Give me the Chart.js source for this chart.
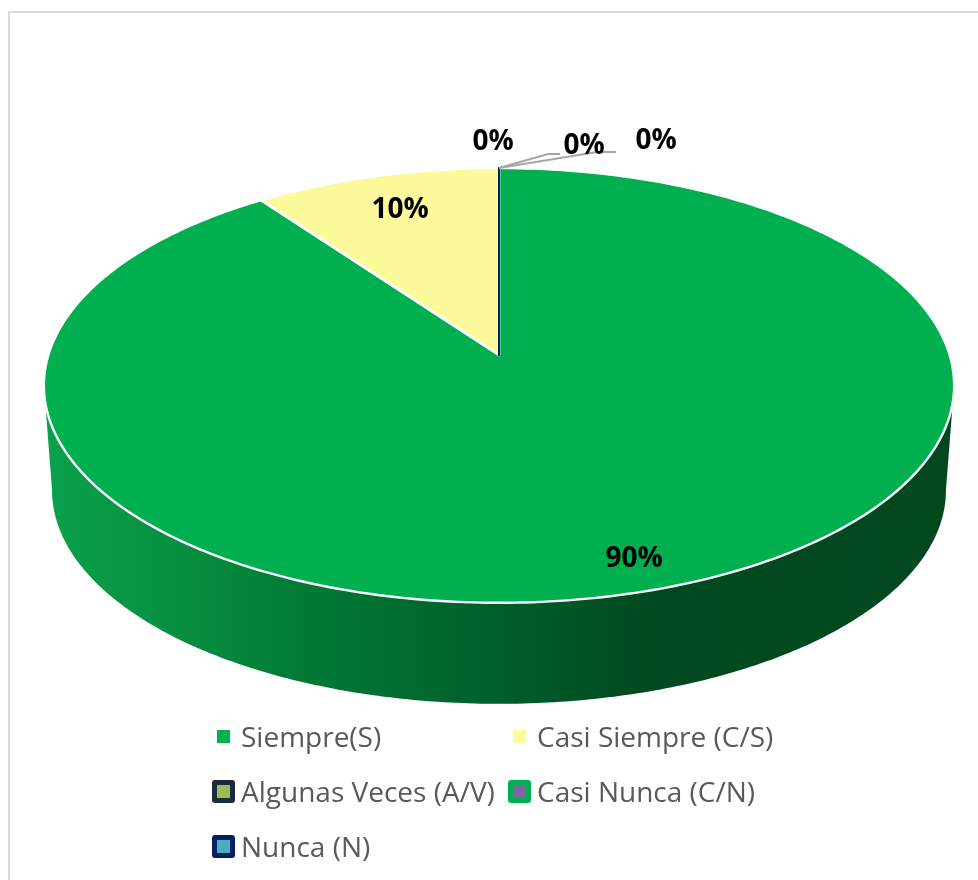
<!DOCTYPE html>
<html lang="es">
<head>
    <meta charset="UTF-8">
    <title>Siempre / Casi Siempre</title>
    <script src="https://cdn.jsdelivr.net/npm/chart.js"></script>
    <style>
        html, body { margin: 0; padding: 0; background: #fff; }
        #page { position: relative; width: 978px; height: 880px; overflow: hidden; }
        #frame { position: absolute; left: 8px; top: 11px; right: -5px; bottom: -5px; border: 2px solid #d9d9d9; }
        canvas { position: absolute; left: 0; top: 0; }
        .legend-item { position: absolute; height: 30px; line-height: 30px; white-space: nowrap;
            font-family: "Open Sans", sans-serif; font-size: 28px; color: #595959; }
        .legend-box { position: absolute; box-sizing: border-box; width: 23px; height: 23px; left: 0; top: 4px; border-radius: 3px; }
        .legend-text { position: absolute; left: 29px; top: 0; }
    </style>
</head>
<body>
<div id="page">
    <div id="frame"></div>
    <canvas id="pie" width="978" height="880"></canvas>
    <div id="legend"></div>
</div>
<script>
    const categories = ['Siempre(S)', 'Casi Siempre (C/S)', 'Algunas Veces (A/V)', 'Casi Nunca (C/N)', 'Nunca (N)'];
    const values = [90, 10, 0, 0, 0];
    const sliceColors = ['#00b050', '#fdfa9b', '#9bbb59', '#8064a2', '#4bacc6'];
    const edgeColors = ['#ffffff', '#ffffff', '#1b2a3c', '#00b050', '#002060'];

    // where the data labels sit, same order as values
    const labelSpots = [[634, 559], [400, 210], [493, 142], [584, 146], [656, 141]];
    // leader lines of the 0% labels, they start at the top of the pie
    const leaders = [[[548, 154], [560, 154]], [[597, 152], [616, 152]]];

    // perspective of the tilted disc, fitted on the picture
    const stretchX = 1.273, stretchY = 0.602, tilt = 0.14;
    const wallDrop = 105.5, wallScale = 0.982;

    function project(arc, angle, r, drop, scale) {
        const u = Math.cos(angle) * r, v = -Math.sin(angle) * r;
        const w = 1 + tilt * v;
        const R = arc.outerRadius * scale;
        return [arc.x + R * stretchX * u / w, arc.y + drop - R * stretchY * v / w];
    }

    function sector(ctx, arc) {
        ctx.beginPath();
        ctx.moveTo(arc.x, arc.y);
        const steps = Math.max(1, Math.ceil((arc.endAngle - arc.startAngle) * 60));
        for (let i = 0; i <= steps; i++) {
            const a = arc.startAngle + (arc.endAngle - arc.startAngle) * i / steps;
            const p = project(arc, a, 1, 0, 1);
            ctx.lineTo(p[0], p[1]);
        }
        ctx.closePath();
    }

    function drawWall(ctx, arc) {
        const grad = ctx.createLinearGradient(45, 0, 954, 0);
        grad.addColorStop(0, '#0ba14c');
        grad.addColorStop(0.17, '#068b3e');
        grad.addColorStop(0.28, '#017a36');
        grad.addColorStop(0.5, '#005e2b');
        grad.addColorStop(0.66, '#004a20');
        grad.addColorStop(1, '#04471f');
        // widest point of the rim on the right, round the front to the widest point on the left
        const from = tilt, span = Math.PI - 2 * tilt, n = 240;
        ctx.beginPath();
        for (let i = 0; i <= n; i++) {
            const p = project(arc, from + span * i / n, 1, 0, 1);
            ctx.lineTo(p[0], p[1]);
        }
        for (let i = n; i >= 0; i--) {
            const p = project(arc, from + span * i / n, 1, wallDrop, wallScale);
            ctx.lineTo(p[0], p[1]);
        }
        ctx.closePath();
        ctx.fillStyle = grad;
        ctx.fill();
    }

    const disc3d = {
        id: 'disc3d',
        beforeDatasetDraw(chart) {
            const ctx = chart.ctx;
            const arcs = chart.getDatasetMeta(0).data;
            ctx.save();
            drawWall(ctx, arcs[0]);
            ctx.lineJoin = 'round';
            arcs.forEach(function (arc, i) {
                sector(ctx, arc);
                ctx.fillStyle = sliceColors[i];
                ctx.fill();
            });
            arcs.forEach(function (arc, i) {
                sector(ctx, arc);
                ctx.strokeStyle = edgeColors[i];
                ctx.lineWidth = values[i] > 0 ? 2.4 : 2;
                ctx.stroke();
            });
            ctx.restore();
            return false; // the library's flat circle is replaced by the tilted one
        },
        afterDatasetsDraw(chart) {
            const ctx = chart.ctx;
            const arc = chart.getDatasetMeta(0).data[0];
            ctx.save();
            ctx.strokeStyle = '#a6a6a6';
            ctx.lineWidth = 2;
            leaders.forEach(function (line) {
                ctx.beginPath();
                ctx.moveTo(arc.x, project(arc, -Math.PI / 2, 1, 0, 1)[1]);
                line.forEach(function (p) { ctx.lineTo(p[0], p[1]); });
                ctx.stroke();
            });
            ctx.font = 'bold 28px "Open Sans", sans-serif';
            ctx.fillStyle = '#000000';
            ctx.textAlign = 'center';
            ctx.textBaseline = 'middle';
            values.forEach(function (v, i) {
                ctx.fillText(v + '%', labelSpots[i][0], labelSpots[i][1]);
            });
            ctx.restore();
        }
    };

    new Chart(document.getElementById('pie'), {
        type: 'pie',
        data: {
            labels: categories,
            datasets: [{ data: values, backgroundColor: sliceColors, borderColor: edgeColors }]
        },
        options: {
            responsive: false,
            animation: false,
            layout: { padding: { left: 20, bottom: 170 } },
            plugins: { legend: { display: false }, tooltip: { enabled: false } }
        },
        plugins: [disc3d]
    });

    // legend, two columns like the original
    const legend = document.getElementById('legend');
    categories.forEach(function (name, i) {
        const item = document.createElement('div');
        item.className = 'legend-item';
        item.style.left = (212 + (i % 2) * 296) + 'px';
        item.style.top = (721 + Math.floor(i / 2) * 55) + 'px';
        const box = document.createElement('span');
        box.className = 'legend-box';
        box.style.background = sliceColors[i];
        if (i >= 2) box.style.border = '5px solid ' + edgeColors[i];
        else box.style.border = '5px solid #fff';
        const text = document.createElement('span');
        text.className = 'legend-text';
        text.textContent = name;
        item.appendChild(box);
        item.appendChild(text);
        legend.appendChild(item);
    });
</script>
</body>
</html>
